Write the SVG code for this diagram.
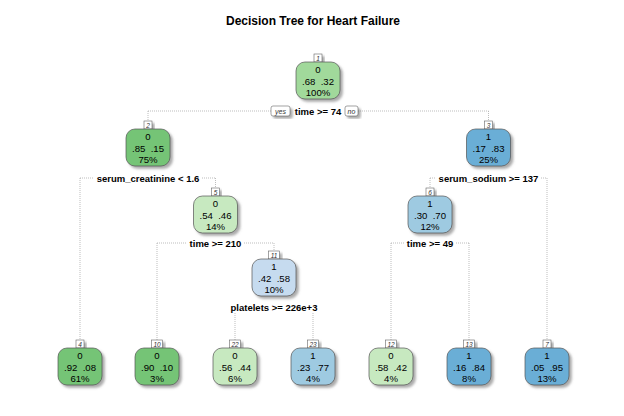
<svg xmlns="http://www.w3.org/2000/svg" width="624" height="416" viewBox="0 0 624 416">
<defs>
<filter id="sh" x="-20%" y="-20%" width="150%" height="150%">
<feDropShadow dx="2.5" dy="2.5" stdDeviation="1" flood-color="#666" flood-opacity="0.55"/>
</filter>
</defs>
<style>
text{font-family:"Liberation Sans",Arial,sans-serif;fill:#000}
.title{font-size:12px;font-weight:bold;text-anchor:middle}
.split{font-size:9.5px;font-weight:bold;text-anchor:middle}
.nt{font-size:9.6px;text-anchor:middle;white-space:pre}
.lb{font-size:6.5px;font-style:italic;text-anchor:middle;fill:#333}
.yn{font-size:7px;font-style:italic;text-anchor:middle;fill:#333}
.box{stroke:#555;stroke-width:0.7;filter:url(#sh)}
.lbox{fill:#fff;stroke:#666;stroke-width:0.6;filter:url(#sh)}
.con line{stroke:#a0a0a0;stroke-width:0.7;stroke-dasharray:1,1;fill:none}
.g1{fill:#a1d99b}.g2{fill:#74c476}.g3{fill:#c7e9c0}
.b1{fill:#c6dbef}.b2{fill:#9ecae1}.b3{fill:#6baed6}
</style>
<rect width="624" height="416" fill="#fff"/>
<text class="title" x="313" y="25">Decision Tree for Heart Failure</text>

<g id="connectors" class="con">
<line x1="148" y1="111" x2="271" y2="111"/>
<line x1="148" y1="111" x2="148" y2="121"/>
<line x1="358" y1="111" x2="488.5" y2="111"/>
<line x1="488.5" y1="111" x2="488.5" y2="121"/>
<line x1="80" y1="178" x2="94" y2="178"/>
<line x1="80" y1="178" x2="80" y2="340"/>
<line x1="202" y1="178" x2="215.5" y2="178"/>
<line x1="215.5" y1="178" x2="215.5" y2="188"/>
<line x1="430" y1="178" x2="436" y2="178"/>
<line x1="430" y1="178" x2="430" y2="188"/>
<line x1="541" y1="178" x2="547" y2="178"/>
<line x1="547" y1="178" x2="547" y2="340"/>
<line x1="157" y1="243" x2="187" y2="243"/>
<line x1="157" y1="243" x2="157" y2="340"/>
<line x1="244" y1="243" x2="274" y2="243"/>
<line x1="274" y1="243" x2="274" y2="251"/>
<line x1="391" y1="243" x2="404" y2="243"/>
<line x1="391" y1="243" x2="391" y2="340"/>
<line x1="456" y1="243" x2="469" y2="243"/>
<line x1="469" y1="243" x2="469" y2="340"/>
<line x1="235" y1="313" x2="235" y2="340"/>
<line x1="313" y1="313" x2="313" y2="340"/>
</g>

<g id="split-labels">
<rect class="lbox" x="271" y="106" width="19" height="10" rx="2"/>
<text class="yn" x="280.5" y="113.5">yes</text>
<rect class="lbox" x="345" y="106" width="13" height="10" rx="2"/>
<text class="yn" x="351.5" y="113.5">no</text>
<text class="split" x="318" y="114.5">time &gt;= 74</text>
<text class="split" x="148" y="181.5">serum_creatinine &lt; 1.6</text>
<text class="split" x="488.5" y="181.5">serum_sodium &gt;= 137</text>
<text class="split" x="215.5" y="246.5">time &gt;= 210</text>
<text class="split" x="430" y="246.5">time &gt;= 49</text>
<text class="split" x="274" y="310.5">platelets &gt;= 226e+3</text>
</g>

<g id="node1">
<rect class="lbox" x="314" y="54" width="8" height="8"/><text class="lb" x="318" y="60.5">1</text>
<rect class="box g1" x="296" y="62" width="44" height="37" rx="9"/>
<text class="nt" x="318" y="73.4">0</text><text class="nt" x="318" y="84.9">.68  .32</text><text class="nt" x="318" y="96.4">100%</text>
</g>
<g id="node2">
<rect class="lbox" x="144" y="121" width="8" height="8"/><text class="lb" x="148" y="127.5">2</text>
<rect class="box g2" x="126" y="129" width="44" height="37" rx="9"/>
<text class="nt" x="148" y="140.4">0</text><text class="nt" x="148" y="151.9">.85  .15</text><text class="nt" x="148" y="163.4">75%</text>
</g>
<g id="node3">
<rect class="lbox" x="484.5" y="121" width="8" height="8"/><text class="lb" x="488.5" y="127.5">3</text>
<rect class="box b3" x="466.5" y="129" width="44" height="37" rx="9"/>
<text class="nt" x="488.5" y="140.4">1</text><text class="nt" x="488.5" y="151.9">.17  .83</text><text class="nt" x="488.5" y="163.4">25%</text>
</g>
<g id="node5">
<rect class="lbox" x="211.5" y="188" width="8" height="8"/><text class="lb" x="215.5" y="194.5">5</text>
<rect class="box g3" x="193.5" y="196" width="44" height="37" rx="9"/>
<text class="nt" x="215.5" y="207.4">0</text><text class="nt" x="215.5" y="218.9">.54  .46</text><text class="nt" x="215.5" y="230.4">14%</text>
</g>
<g id="node6">
<rect class="lbox" x="426" y="188" width="8" height="8"/><text class="lb" x="430" y="194.5">6</text>
<rect class="box b2" x="408" y="196" width="44" height="37" rx="9"/>
<text class="nt" x="430" y="207.4">1</text><text class="nt" x="430" y="218.9">.30  .70</text><text class="nt" x="430" y="230.4">12%</text>
</g>
<g id="node11">
<rect class="lbox" x="268.5" y="251" width="11" height="8"/><text class="lb" x="274" y="257.5">11</text>
<rect class="box b1" x="252" y="259" width="44" height="37" rx="9"/>
<text class="nt" x="274" y="270.4">1</text><text class="nt" x="274" y="281.9">.42  .58</text><text class="nt" x="274" y="293.4">10%</text>
</g>
<g id="node4">
<rect class="lbox" x="76" y="340" width="8" height="8"/><text class="lb" x="80" y="346.5">4</text>
<rect class="box g2" x="58" y="348" width="44" height="37" rx="9"/>
<text class="nt" x="80" y="359.4">0</text><text class="nt" x="80" y="370.9">.92  .08</text><text class="nt" x="80" y="382.4">61%</text>
</g>
<g id="node10">
<rect class="lbox" x="151.5" y="340" width="11" height="8"/><text class="lb" x="157" y="346.5">10</text>
<rect class="box g2" x="135" y="348" width="44" height="37" rx="9"/>
<text class="nt" x="157" y="359.4">0</text><text class="nt" x="157" y="370.9">.90  .10</text><text class="nt" x="157" y="382.4">3%</text>
</g>
<g id="node22">
<rect class="lbox" x="229.5" y="340" width="11" height="8"/><text class="lb" x="235" y="346.5">22</text>
<rect class="box g3" x="213" y="348" width="44" height="37" rx="9"/>
<text class="nt" x="235" y="359.4">0</text><text class="nt" x="235" y="370.9">.56  .44</text><text class="nt" x="235" y="382.4">6%</text>
</g>
<g id="node23">
<rect class="lbox" x="307.5" y="340" width="11" height="8"/><text class="lb" x="313" y="346.5">23</text>
<rect class="box b2" x="291" y="348" width="44" height="37" rx="9"/>
<text class="nt" x="313" y="359.4">1</text><text class="nt" x="313" y="370.9">.23  .77</text><text class="nt" x="313" y="382.4">4%</text>
</g>
<g id="node12">
<rect class="lbox" x="385.5" y="340" width="11" height="8"/><text class="lb" x="391" y="346.5">12</text>
<rect class="box g3" x="369" y="348" width="44" height="37" rx="9"/>
<text class="nt" x="391" y="359.4">0</text><text class="nt" x="391" y="370.9">.58  .42</text><text class="nt" x="391" y="382.4">4%</text>
</g>
<g id="node13">
<rect class="lbox" x="463.5" y="340" width="11" height="8"/><text class="lb" x="469" y="346.5">13</text>
<rect class="box b3" x="447" y="348" width="44" height="37" rx="9"/>
<text class="nt" x="469" y="359.4">1</text><text class="nt" x="469" y="370.9">.16  .84</text><text class="nt" x="469" y="382.4">8%</text>
</g>
<g id="node7">
<rect class="lbox" x="543" y="340" width="8" height="8"/><text class="lb" x="547" y="346.5">7</text>
<rect class="box b3" x="525" y="348" width="44" height="37" rx="9"/>
<text class="nt" x="547" y="359.4">1</text><text class="nt" x="547" y="370.9">.05  .95</text><text class="nt" x="547" y="382.4">13%</text>
</g>
</svg>
